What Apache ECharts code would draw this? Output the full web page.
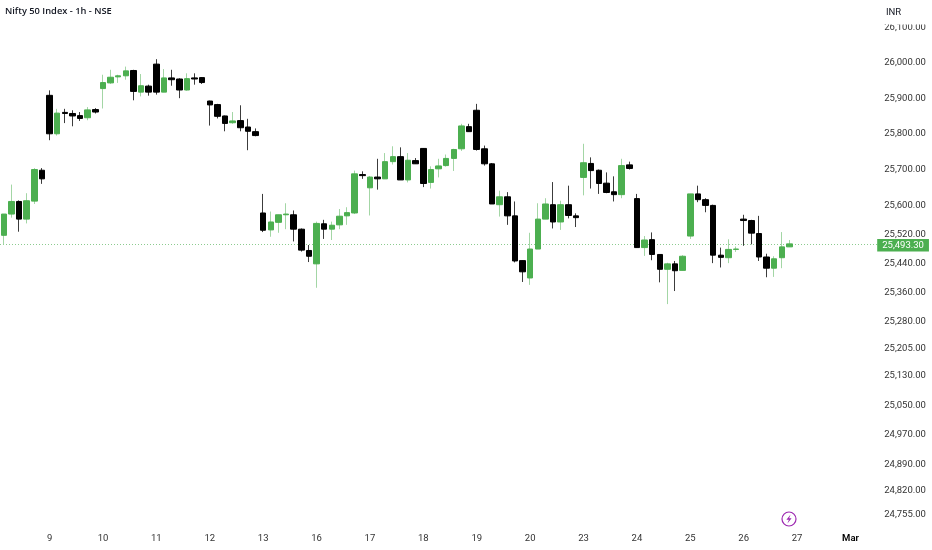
<!DOCTYPE html>
<html><head><meta charset="utf-8">
<style>html,body{margin:0;padding:0;background:#fff}#c{width:932px;height:550px}</style>
<script src="https://cdn.jsdelivr.net/npm/echarts@6/dist/echarts.min.js"></script>
</head><body><div id="c"></div>
<script>
const title = 'Nifty 50 Index - 1h - NSE';
const currency = 'INR';
const lastPrice = 25493.3;
const dayLabels = ['9','10','11','12','13','16','17','18','19','20','23','24','25','26','27','Mar'];
const yTicks = [26100,26000,25900,25800,25700,25600,25520,25440,25360,25280,25205,25130,25050,24970,24890,24820,24755];
const opens = [25517,25576,25611,25562,25612,25698,
25908,25800,25860,25857,25851,25845,25868,
25927,25943,25960,25963,25978,25917,25934,25996,25917,25957,25954,25923,25957,25958,
25892,25882,25850,25831,25837,25819,25806,
25579,25532,25553,25574,25574,25534,25475,
25438,25549,25534,25546,25571,25579,25686,
25649,25679,25674,25722,25736,25671,25725,
25759,25664,25702,25711,25731,25758,25820,
25866,25758,25716,25602,25624,25571,25447,
25399,25479,25562,25602,25554,25602,25571,
25678,25717,25698,25662,25638,25630,25713,
25619,25483,25505,25464,25423,25438,25420,
25515,25632,25616,25600,25462,25455,25478,
25562,25558,25522,25457,25426,25455,25485];
const closes = [25576,25611,25562,25613,25700,25674,
25800,25858,25857,25850,25843,25867,25861,
25944,25959,25963,25977,25919,25935,25917,25917,25957,25952,25923,25955,25954,25944,
25881,25849,25829,25836,25817,25807,25795,
25531,25554,25574,25576,25534,25476,25459,
25550,25534,25545,25570,25580,25688,25683,
25679,25674,25722,25736,25671,25726,25716,
25661,25700,25710,25731,25756,25822,25806,
25756,25716,25604,25624,25571,25446,25416,
25479,25562,25604,25554,25602,25572,25566,
25719,25697,25661,25636,25630,25711,25703,
25483,25504,25464,25423,25438,25419,25459,
25632,25616,25600,25462,25456,25478,25479,
25558,25523,25457,25426,25452,25485,25493.3];
const lows = [25492,25566,25527,25550,25604,25660,
25782,25795,25830,25821,25836,25838,25857,
25871,25940,25943,25952,25894,25905,25907,25910,25917,25935,25900,25921,25938,25940,
25823,25843,25807,25828,25807,25754,25793,
25526,25513,25524,25534,25500,25472,25443,
25372,25507,25504,25534,25546,25576,25674,
25572,25644,25674,25714,25671,25664,25716,
25651,25647,25678,25708,25696,25752,25806,
25753,25711,25604,25569,25546,25442,25388,
25380,25479,25562,25536,25532,25564,25540,
25628,25647,25632,25634,25611,25620,25700,
25483,25460,25448,25387,25327,25363,25420,
25507,25609,25581,25440,25428,25440,25471,
25488,25492,25446,25401,25402,25426,25485];
const highs = [25576,25658,25614,25634,25704,25704,
25922,25870,25870,25866,25861,25875,25872,
25966,25980,25966,25989,25980,25968,25938,26010,25982,25980,25956,25970,25970,25959,
25893,25884,25851,25861,25880,25842,25815,
25632,25583,25574,25606,25586,25536,25490,
25555,25560,25555,25590,25595,25697,25695,
25682,25730,25746,25765,25762,25746,25732,
25760,25709,25730,25742,25758,25828,25828,
25884,25767,25718,25641,25637,25611,25447,
25524,25606,25620,25665,25613,25655,25578,
25772,25734,25700,25692,25681,25730,25722,
25632,25515,25525,25464,25441,25446,25462,
25632,25655,25620,25602,25483,25506,25486,
25574,25560,25571,25466,25459,25526,25504];
const slotCount = 115, firstDaySlot = 6, slotsPerDay = 7;
const categories = Array.from({length: slotCount}, (_, i) => {
  const k = (i - firstDaySlot) / slotsPerDay;
  return Number.isInteger(k) && k >= 0 && k < dayLabels.length ? dayLabels[k] : '';
});
const GREEN = '#4caf50', GREEN_WICK = '#a3d6a5', BLACK = '#000000', BLACK_WICK = '#3c3c3c';
const wickData = opens.map((o, i) => [o, closes[i], lows[i], highs[i]]);
const bodyData = opens.map((o, i) => [o, closes[i], Math.min(o, closes[i]), Math.max(o, closes[i])]);
const money = v => v.toLocaleString('en-US', {minimumFractionDigits: 2, maximumFractionDigits: 2});
const FONT = 'Roboto';
const chart = echarts.init(document.getElementById('c'), null, {renderer: 'canvas'});
chart.setOption({
  animation: false,
  backgroundColor: '#ffffff',
  title: {text: title, left: 5, top: 7, padding: 0,
    textStyle: {fontFamily: 'Open Sans', fontSize: 9.3, fontWeight: 600, color: '#131722'}},
  grid: {left: -1.7, width: 878.9, top: 25, height: 500, containLabel: false},
  xAxis: {type: 'category', data: categories, boundaryGap: true,
    axisLine: {show: false}, axisTick: {show: false}, splitLine: {show: false},
    axisLabel: {show: true, interval: (i, v) => v !== '', margin: 9, fontFamily: FONT, fontSize: 9.5, color: '#333',
      hideOverlap: false,
      formatter: v => v === 'Mar' ? '{b|Mar}' : v,
      rich: {b: {fontFamily: FONT, fontSize: 9.5, fontWeight: 600, color: '#000'}}}},
  yAxis: {type: 'log', logBase: 10, position: 'right', min: 24726.5, max: 26106.7,
    axisLine: {show: false}, axisTick: {show: false}, splitLine: {show: false}, minorTick: {show: false},
    axisLabel: {show: true, customValues: yTicks, formatter: v => money(v), margin: 7, align: 'left',
      fontFamily: FONT, fontSize: 9.5, color: '#333', showMinLabel: true, showMaxLabel: true, hideOverlap: false}},
  series: [
    {type: 'candlestick', name: 'wick', data: wickData, barWidth: 1, silent: true, z: 2,
      itemStyle: {color: GREEN_WICK, color0: BLACK_WICK, borderColor: GREEN_WICK, borderColor0: BLACK_WICK, borderWidth: 1}},
    {type: 'candlestick', name: 'Nifty 50', data: bodyData, barWidth: 6, silent: true, z: 3,
      itemStyle: {color: GREEN, color0: BLACK, borderColor: GREEN, borderColor0: BLACK, borderWidth: 1},
      markLine: {silent: true, symbol: 'none', animation: false, z: 1,
        lineStyle: {color: '#8ccb8f', type: [1, 2], width: 1},
        label: {show: true, position: 'end', distance: 0, offset: [0, 1.5], formatter: p => money(p.value), fontFamily: FONT, fontSize: 9.5,
          color: '#fff', backgroundColor: GREEN, padding: [1.5, 5, 1, 5]},
        data: [{yAxis: lastPrice}]}}
  ],
  graphic: [
    {type: 'rect', left: 870, top: 0, shape: {width: 62, height: 24.5}, style: {fill: '#fff'}, z: 100},
    {type: 'text', left: 886, top: 8, z: 101, style: {text: currency, fontFamily: FONT, fontSize: 9.5, fill: '#131722'}},
    {type: 'circle', z: 101, shape: {cx: 789, cy: 519, r: 7}, style: {fill: '#fff', stroke: '#9c27b0', lineWidth: 1.2}},
    {type: 'polygon', z: 102, shape: {points: [[790.6,514.6],[786.4,519.8],[788.9,519.8],[787.4,523.4],[791.6,518.2],[789.1,518.2]]},
      style: {fill: '#9c27b0'}}
  ]
});
</script></body></html>
